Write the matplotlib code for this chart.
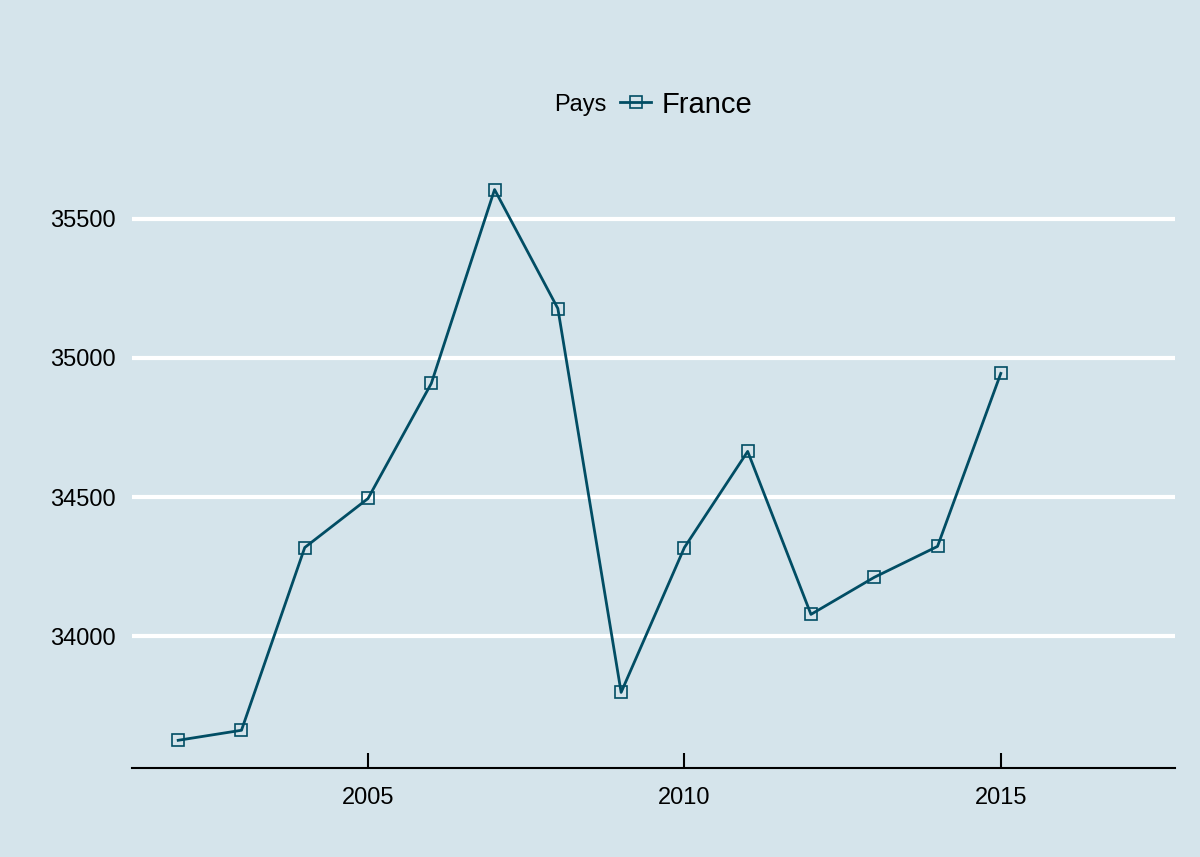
import matplotlib.pyplot as plt
from matplotlib.lines import Line2D

plt.rcParams['font.family'] = ['Liberation Sans', 'DejaVu Sans']

# values
years = [2002, 2003, 2004, 2005, 2006, 2007, 2008, 2009, 2010, 2011, 2012, 2013, 2014, 2015]
france = [33627, 33663, 34319, 34495, 34908, 35604, 35177, 33799, 34319, 34664, 34079, 34212, 34323, 34944]
yticks = [34000, 34500, 35000, 35500]
xticks = [2005, 2010, 2015]

bg = '#d5e4eb'
line_col = '#014d64'

fig = plt.figure(figsize=(12, 8.57), dpi=100, facecolor=bg)
ax = fig.add_axes([0.11, 0.104, 0.869, 0.707], facecolor=bg)

ax.plot(years, france, color=line_col, lw=2, marker='s', markersize=8.5,
        markerfacecolor='none', markeredgecolor=line_col, markeredgewidth=1.2, zorder=3)

ax.set_xlim(2001.27, 2017.75)
ax.set_ylim(33528, 35703)
ax.set_xticks(xticks)
ax.set_yticks(yticks)
ax.set_xticklabels([str(x) for x in xticks], fontsize=17)
ax.set_yticklabels([str(y) for y in yticks], fontsize=17)

ax.grid(axis='y', color='white', lw=3, zorder=0)
ax.set_axisbelow(True)
for s in ['top', 'right', 'left']:
    ax.spines[s].set_visible(False)
ax.spines['bottom'].set_linewidth(1.5)
ax.spines['bottom'].set_color('black')
ax.tick_params(axis='y', length=0, pad=12)
ax.tick_params(axis='x', direction='in', length=11, width=1.5, pad=14)

# legend with title on the left
fig.text(0.505, 0.878, 'Pays', fontsize=17, ha='right', va='center')
handle = Line2D([], [], color=line_col, lw=2, marker='s', markersize=8.5,
                markerfacecolor='none', markeredgecolor=line_col, markeredgewidth=1.2)
fig.legend(handles=[handle], labels=['France'], loc='center left', bbox_to_anchor=(0.517, 0.878),
           frameon=False, fontsize=21, handlelength=1.05, handletextpad=0.35, borderpad=0,
           borderaxespad=0)

fig.savefig('out.png', dpi=100, facecolor=bg)
